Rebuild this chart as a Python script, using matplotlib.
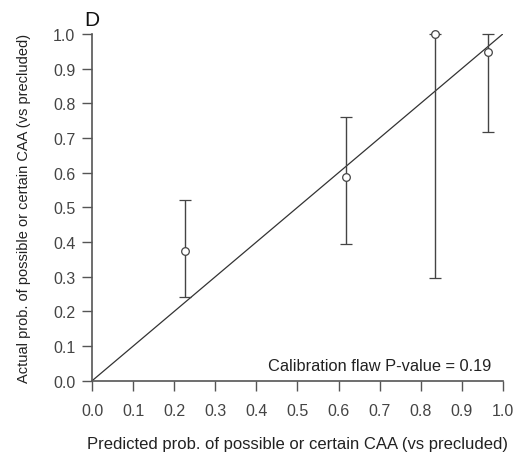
import matplotlib
matplotlib.use("Agg")
import matplotlib.pyplot as plt

# calibration groups: predicted vs actual with 95% CI
predicted = [0.226, 0.617, 0.836, 0.963]
actual = [0.375, 0.587, 1.0, 0.949]
ci_low = [0.243, 0.395, 0.296, 0.718]
ci_high = [0.522, 0.76, 1.0, 1.0]
ticks = [0.0, 0.1, 0.2, 0.3, 0.4, 0.5, 0.6, 0.7, 0.8, 0.9, 1.0]
p_value = 0.19

plt.rcParams['font.family'] = ['Liberation Sans', 'DejaVu Sans']
grey = '#444444'

fig = plt.figure(figsize=(5.2, 4.6), dpi=100)
ax = fig.add_axes([0.177, 0.170, 0.790, 0.754])

# diagonal of perfect calibration
ax.plot([0, 1], [0, 1], color='#333333', lw=0.9)

yerr = [[a - lo for a, lo in zip(actual, ci_low)],
        [hi - a for a, hi in zip(actual, ci_high)]]
ax.errorbar(predicted, actual, yerr=yerr, fmt='o', ms=5.5, mfc='white',
            mec='#444444', mew=0.9, ecolor='#444444', elinewidth=1.0,
            capsize=4, capthick=1.0, clip_on=False)

ax.set_xlim(0, 1)
ax.set_ylim(0, 1)
ax.set_xticks(ticks)
ax.set_yticks(ticks)
ax.set_xticklabels([f"{t:.1f}" for t in ticks])
ax.set_yticklabels([f"{t:.1f}" for t in ticks])
for s in ['top', 'right']:
    ax.spines[s].set_visible(False)
for s in ['left', 'bottom']:
    ax.spines[s].set_color('#555555')
    ax.spines[s].set_linewidth(1.2)
ax.tick_params(axis='x', direction='out', length=7, width=1, color='#555555',
               labelsize=11.5, labelcolor=grey, pad=9)
ax.tick_params(axis='y', direction='out', length=7, width=1, color='#555555',
               labelsize=11.5, labelcolor=grey, pad=5)

ax.set_xlabel("Predicted prob. of possible or certain CAA (vs precluded)",
              fontsize=12, color='#222222', labelpad=13)
ax.set_ylabel("Actual prob. of possible or certain CAA (vs precluded)",
              fontsize=10.5, color='#222222', labelpad=16)

ax.text(0.973, 0.045, f"Calibration flaw P-value = {p_value:.2f}", ha='right',
        va='center', fontsize=11.8, color='#222222', transform=ax.transAxes)
fig.text(91.5 / 520, 1 - 21 / 460, "D", fontsize=15, ha='center', va='center',
         color='#111111')

fig.savefig("out.png", dpi=100)
